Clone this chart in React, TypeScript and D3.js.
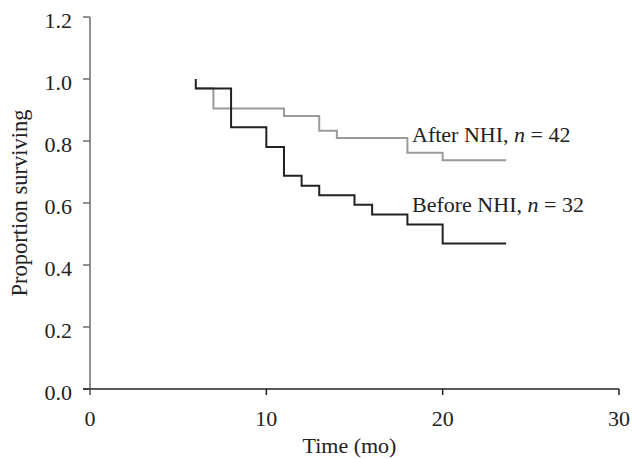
import React from 'react'
import * as d3 from 'd3'

// survival steps (time in months, proportion after each event)
const beforeTimes = [6, 6, 8, 10, 11, 12, 13, 15, 16, 18, 20, 23.6]
const beforeSurv = [1.0, 0.969, 0.844, 0.781, 0.688, 0.656, 0.625, 0.594, 0.563, 0.531, 0.469, 0.469]
const afterTimes = [6, 7, 11, 13, 14, 18, 20, 23.6]
const afterSurv = [0.97, 0.905, 0.881, 0.833, 0.81, 0.762, 0.738, 0.738]

const xTicks = [0, 10, 20, 30]
const yTicks = [0, 0.2, 0.4, 0.6, 0.8, 1.0, 1.2]

const width = 632
const height = 459
const font = '"Liberation Serif", "DejaVu Serif", serif'

const App = () => {
  const x = d3.scaleLinear().domain([0, 30]).range([90, 619])
  const y = d3.scaleLinear().domain([0, 1.2]).range([389, 17])

  const line = d3
    .line<[number, number]>()
    .x((d) => x(d[0]))
    .y((d) => y(d[1]))
    .curve(d3.curveStepAfter)

  const before = beforeTimes.map((t, i) => [t, beforeSurv[i]] as [number, number])
  const after = afterTimes.map((t, i) => [t, afterSurv[i]] as [number, number])

  return (
    <svg
      width={width}
      height={height}
      style={{ position: 'absolute', left: 0, top: 0, background: '#fff' }}
      fontFamily={font}
    >
      {/* y axis */}
      <line x1={x(0)} x2={x(0)} y1={y(1.2)} y2={y(0) + 6} stroke="#6e6e6e" strokeWidth={1.5} />
      {yTicks.map((t) => (
        <g key={t}>
          <line x1={x(0) - 7} x2={x(0)} y1={y(t)} y2={y(t)} stroke="#6e6e6e" strokeWidth={1.5} />
          <text x={72} y={y(t) + 11} textAnchor="end" fontSize={22} fill="#222">
            {d3.format('.1f')(t)}
          </text>
        </g>
      ))}

      {/* x axis */}
      <line x1={x(0) - 7} x2={x(30)} y1={y(0)} y2={y(0)} stroke="#222" strokeWidth={1.5} />
      {xTicks.map((t) => (
        <g key={t}>
          <line x1={x(t)} x2={x(t)} y1={y(0)} y2={y(0) + 6} stroke={t === 0 ? '#6e6e6e' : '#222'} strokeWidth={1.5} />
          <text x={x(t)} y={426} textAnchor="middle" fontSize={22} fill="#222">
            {t}
          </text>
        </g>
      ))}

      <text x={(x(0) + x(30)) / 2 - 5} y={453} textAnchor="middle" fontSize={22} fill="#222">
        Time (mo)
      </text>
      <text
        transform={`translate(27,${(y(0) + y(1.2)) / 2}) rotate(-90)`}
        textAnchor="middle"
        fontSize={22.5}
        fill="#222"
      >
        Proportion surviving
      </text>

      {/* curves */}
      <path d={line(after) ?? ''} fill="none" stroke="#9a9a9a" strokeWidth={2} />
      <path d={line(before) ?? ''} fill="none" stroke="#222" strokeWidth={2} />

      <text x={412} y={142} fontSize={22} fill="#222">
        After NHI, <tspan fontStyle="italic">n</tspan> = 42
      </text>
      <text x={412} y={212} fontSize={22} fill="#222">
        Before NHI, <tspan fontStyle="italic">n</tspan> = 32
      </text>
    </svg>
  )
}

export default App
